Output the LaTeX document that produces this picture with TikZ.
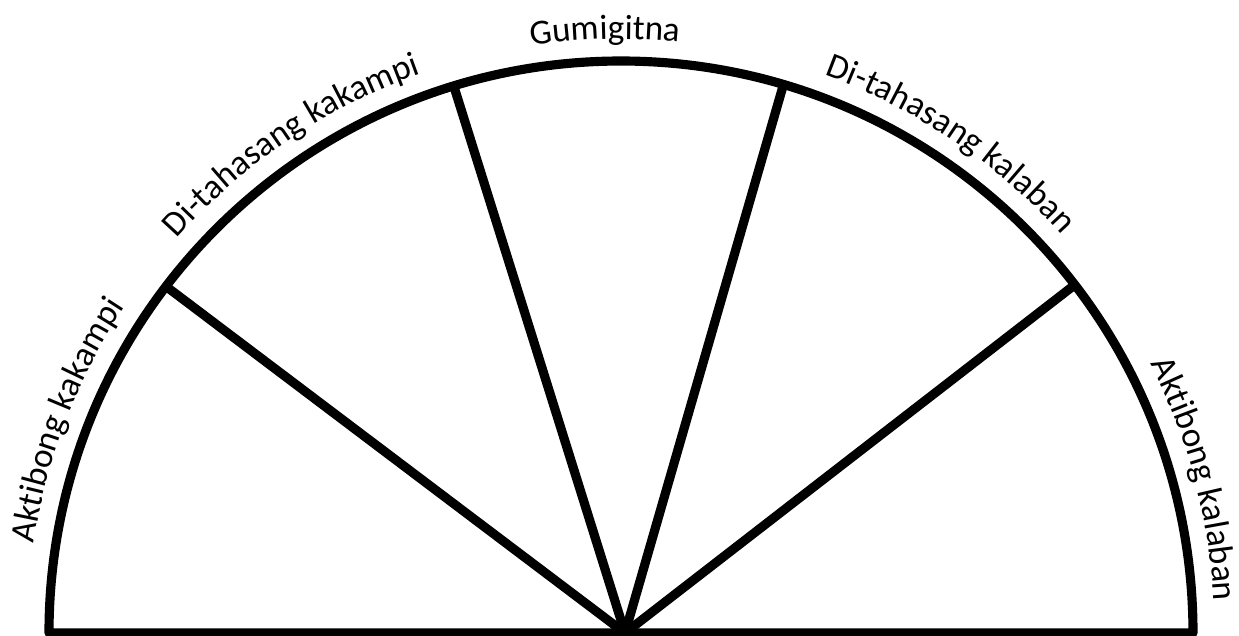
\documentclass[tikz,border=0pt]{standalone}
\usepackage{fontspec}
\setmainfont{Carlito}
\usetikzlibrary{decorations.text}

\begin{document}
\begin{tikzpicture}[x=0.01cm,y=0.01cm,
 rim/.style={line width=2.6pt,line join=round},
 arclabel/.style={decorate,decoration={text along path,text align=center,text={#1}},font=\fontsize{8.9}{11}\selectfont}]
\useasboundingbox (0,0) rectangle (1239,635);
\coordinate (O) at (621,2);
\coordinate (H) at (625,2);
\coordinate (L) at (49,2);
\coordinate (R) at (1193,2);
\draw[rim] (L) -- (R) arc[start angle=0,end angle=180,radius=572] -- cycle;
\foreach \a in {37.5,73.5,107,142.7}
  \draw[rim] (H) -- ([shift={(\a:572)}]O);
% labels along the rim
\path[arclabel={Aktibong kakampi}] ([shift={(174:594)}]O) arc[start angle=174,end angle=144,radius=594];
\path[arclabel={Di-tahasang kakampi}] ([shift={(139:594)}]O) arc[start angle=139,end angle=109,radius=594];
\path[arclabel={Gumigitna}] ([shift={(106.5:594)}]O) arc[start angle=106.5,end angle=76.5,radius=594];
\path[arclabel={Di-tahasang kalaban}] ([shift={(71:594)}]O) arc[start angle=71,end angle=41,radius=594];
\path[arclabel={Aktibong kalaban}] ([shift={(30:594)}]O) arc[start angle=30,end angle=0,radius=594];
\end{tikzpicture}
\end{document}
